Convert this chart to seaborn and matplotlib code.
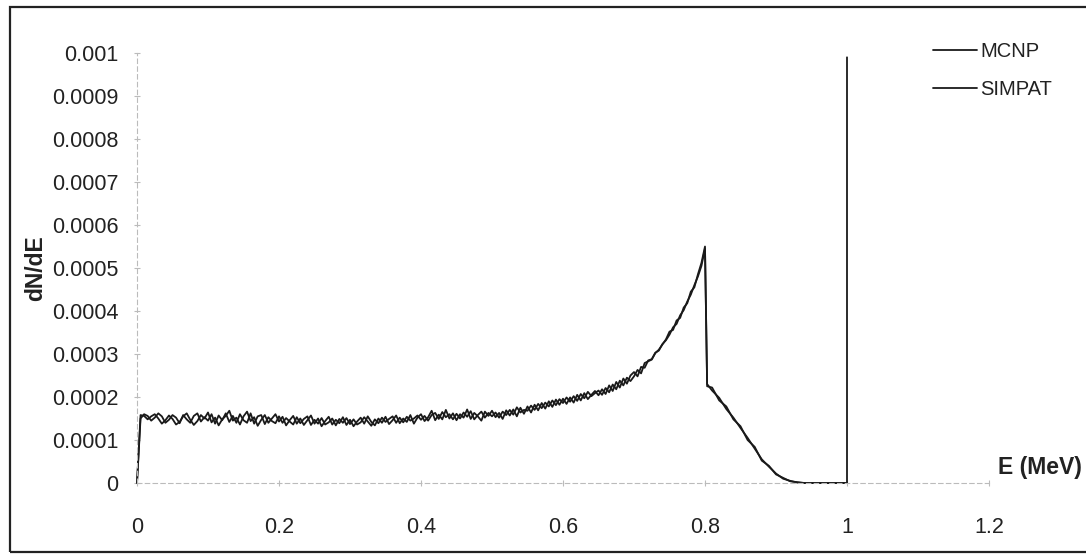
import numpy as np
import pandas as pd
import matplotlib
matplotlib.use("Agg")
import matplotlib.pyplot as plt
import seaborn as sns
from matplotlib.patches import Rectangle

# Energie-Raster (MeV) bis zum Peak, Schrittweite 0.005
energie_a = [
    0.000, 0.005, 0.010, 0.015, 0.020, 0.025, 0.030, 0.035, 0.040, 0.045,
    0.050, 0.055, 0.060, 0.065, 0.070, 0.075, 0.080, 0.085, 0.090, 0.095,
    0.100, 0.105, 0.110, 0.115, 0.120, 0.125, 0.130, 0.135, 0.140, 0.145,
    0.150, 0.155, 0.160, 0.165, 0.170, 0.175, 0.180, 0.185, 0.190, 0.195,
    0.200, 0.205, 0.210, 0.215, 0.220, 0.225, 0.230, 0.235, 0.240, 0.245,
    0.250, 0.255, 0.260, 0.265, 0.270, 0.275, 0.280, 0.285, 0.290, 0.295,
    0.300, 0.305, 0.310, 0.315, 0.320, 0.325, 0.330, 0.335, 0.340, 0.345,
    0.350, 0.355, 0.360, 0.365, 0.370, 0.375, 0.380, 0.385, 0.390, 0.395,
    0.400, 0.405, 0.410, 0.415, 0.420, 0.425, 0.430, 0.435, 0.440, 0.445,
    0.450, 0.455, 0.460, 0.465, 0.470, 0.475, 0.480, 0.485, 0.490, 0.495,
    0.500, 0.505, 0.510, 0.515, 0.520, 0.525, 0.530, 0.535, 0.540, 0.545,
    0.550, 0.555, 0.560, 0.565, 0.570, 0.575, 0.580, 0.585, 0.590, 0.595,
    0.600, 0.605, 0.610, 0.615, 0.620, 0.625, 0.630, 0.635, 0.640, 0.645,
    0.650, 0.655, 0.660, 0.665, 0.670, 0.675, 0.680, 0.685, 0.690, 0.695,
    0.700, 0.705, 0.710, 0.715, 0.720, 0.725, 0.730, 0.735, 0.740, 0.745,
    0.750, 0.755, 0.760, 0.765, 0.770, 0.775, 0.780, 0.785, 0.790, 0.795,
    0.800,
]
# Abfall nach dem Peak bis 1 MeV
energie_b = [0.803, 0.81, 0.82, 0.83, 0.84, 0.85, 0.86, 0.87, 0.88, 0.89,
             0.90, 0.91, 0.92, 0.93, 0.94, 0.96, 0.98, 1.00]

# dN/dE in Einheiten von 1e-4
mcnp_a = [
    0.00, 1.58, 1.56, 1.48, 1.55, 1.60, 1.50, 1.38, 1.46, 1.57,
    1.49, 1.36, 1.42, 1.55, 1.62, 1.47, 1.35, 1.44, 1.58, 1.50,
    1.64, 1.41, 1.52, 1.34, 1.48, 1.56, 1.68, 1.45, 1.52, 1.36,
    1.55, 1.66, 1.44, 1.53, 1.33, 1.47, 1.58, 1.40, 1.50, 1.60,
    1.43, 1.54, 1.34, 1.46, 1.56, 1.38, 1.50, 1.35, 1.46, 1.57,
    1.38, 1.50, 1.32, 1.44, 1.54, 1.36, 1.47, 1.39, 1.53, 1.35,
    1.47, 1.32, 1.43, 1.52, 1.38, 1.55, 1.42, 1.34, 1.50, 1.40,
    1.54, 1.37, 1.46, 1.57, 1.39, 1.50, 1.42, 1.58, 1.38, 1.52,
    1.60, 1.44, 1.53, 1.68, 1.46, 1.59, 1.48, 1.70, 1.50, 1.62,
    1.46, 1.60, 1.52, 1.71, 1.49, 1.63, 1.55, 1.45, 1.66, 1.56,
    1.68, 1.53, 1.63, 1.49, 1.69, 1.57, 1.71, 1.55, 1.75, 1.61,
    1.78, 1.64, 1.82, 1.69, 1.86, 1.73, 1.90, 1.77, 1.94, 1.82,
    1.96, 1.84, 1.99, 1.87, 2.05, 1.92, 2.09, 1.95, 2.05, 2.14,
    2.04, 2.18, 2.07, 2.27, 2.14, 2.35, 2.22, 2.43, 2.31, 2.50,
    2.58, 2.48, 2.70, 2.68, 2.85, 2.88, 3.03, 3.08, 3.23, 3.32,
    3.45, 3.62, 3.70, 3.90, 4.02, 4.22, 4.38, 4.60, 4.80, 5.05,
    5.45,
]
mcnp_b = [2.30, 2.15, 1.98, 1.72, 1.52, 1.28, 1.05, 0.80, 0.55, 0.38,
          0.22, 0.10, 0.05, 0.01, 0.00, 0.00, 0.00, 0.00]

simpat_a = [
    0.00, 1.50, 1.60, 1.56, 1.45, 1.52, 1.62, 1.55, 1.40, 1.47,
    1.58, 1.52, 1.39, 1.58, 1.48, 1.40, 1.56, 1.62, 1.43, 1.53,
    1.45, 1.60, 1.38, 1.57, 1.46, 1.62, 1.42, 1.56, 1.40, 1.60,
    1.46, 1.40, 1.62, 1.38, 1.55, 1.58, 1.37, 1.53, 1.44, 1.39,
    1.55, 1.40, 1.51, 1.43, 1.36, 1.53, 1.39, 1.49, 1.55, 1.35,
    1.47, 1.38, 1.51, 1.36, 1.41, 1.50, 1.34, 1.49, 1.40, 1.51,
    1.37, 1.48, 1.36, 1.41, 1.53, 1.43, 1.33, 1.48, 1.39, 1.52,
    1.42, 1.49, 1.55, 1.40, 1.52, 1.41, 1.54, 1.45, 1.50, 1.57,
    1.47, 1.56, 1.45, 1.58, 1.63, 1.49, 1.65, 1.53, 1.60, 1.48,
    1.61, 1.50, 1.64, 1.54, 1.67, 1.48, 1.58, 1.66, 1.52, 1.63,
    1.55, 1.64, 1.52, 1.66, 1.58, 1.70, 1.59, 1.76, 1.64, 1.70,
    1.68, 1.80, 1.70, 1.84, 1.74, 1.87, 1.78, 1.92, 1.81, 1.95,
    1.86, 1.99, 1.89, 2.02, 1.91, 2.07, 1.97, 2.12, 2.02, 2.09,
    2.15, 2.05, 2.21, 2.11, 2.29, 2.18, 2.38, 2.27, 2.45, 2.37,
    2.48, 2.63, 2.55, 2.79, 2.83, 2.87, 3.02, 3.10, 3.22, 3.34,
    3.52, 3.56, 3.78, 3.84, 4.08, 4.18, 4.45, 4.55, 4.85, 5.12,
    5.50,
]
simpat_b = [2.25, 2.22, 1.92, 1.78, 1.48, 1.32, 1.00, 0.84, 0.52, 0.40,
            0.20, 0.12, 0.04, 0.02, 0.00, 0.00, 0.00, 0.00]

# Linie bei 1 MeV (nur MCNP)
spitze_e = [1.00]
spitze_wert = [9.9]

skala = 1e-4

# === Daten zusammenbauen ===
e_mcnp = energie_a + energie_b + spitze_e
y_mcnp = mcnp_a + mcnp_b + spitze_wert
e_simpat = energie_a + energie_b
y_simpat = simpat_a + simpat_b

df = pd.concat([
    pd.DataFrame({"E": e_mcnp, "dNdE": np.array(y_mcnp) * skala, "Code": "MCNP"}),
    pd.DataFrame({"E": e_simpat, "dNdE": np.array(y_simpat) * skala, "Code": "SIMPAT"}),
], ignore_index=True)

# === Plot ===
sns.set_theme(style="white")
plt.rcParams["font.family"] = ["Liberation Sans", "DejaVu Sans"]

fig = plt.figure(figsize=(10.86, 5.55), dpi=100)
ax = fig.add_axes([137 / 1086, 72 / 555, 852 / 1086, 430 / 555])

sns.lineplot(
    data=df, x="E", y="dNdE", hue="Code",
    palette={"MCNP": "#1a1a1a", "SIMPAT": "#1a1a1a"},
    estimator=None, sort=False, linewidth=1.3, ax=ax,
)
for line in ax.lines:
    line.set_clip_on(False)

ax.set_xlim(0, 1.2)
ax.set_ylim(0, 0.001)
ax.set_xticks([0, 0.2, 0.4, 0.6, 0.8, 1.0, 1.2])
ax.set_xticklabels(["0", "0.2", "0.4", "0.6", "0.8", "1", "1.2"])
ax.set_yticks([i * 1e-4 for i in range(11)])
ax.set_yticklabels(["0", "0.0001", "0.0002", "0.0003", "0.0004", "0.0005",
                    "0.0006", "0.0007", "0.0008", "0.0009", "0.001"])
ax.tick_params(axis="y", labelsize=15.5, colors="#bbbbbb", labelcolor="#222222",
               direction="inout", length=5, width=0.8, pad=11, left=True)
ax.tick_params(axis="x", labelsize=15.5, colors="#bbbbbb", labelcolor="#222222",
               direction="inout", length=5, width=0.8, pad=22, bottom=True)

for s in ["top", "right"]:
    ax.spines[s].set_visible(False)
for s in ["left", "bottom"]:
    ax.spines[s].set_color("#bbbbbb")
    ax.spines[s].set_linestyle((0, (4, 3)))
    ax.spines[s].set_linewidth(0.8)

ax.set_xlabel("")
ax.set_ylabel("dN/dE", fontsize=16.5, fontweight="bold", color="#222222", labelpad=3)
ax.text(1.011, 0.01, "E (MeV)", transform=ax.transAxes, fontsize=16.5,
        fontweight="bold", color="#222222", ha="left", va="bottom")

sns.move_legend(ax, "upper left", bbox_to_anchor=(0.922, 1.05), frameon=False,
                title=None, fontsize=14.5, handlelength=2.2, handletextpad=0.15,
                borderpad=0, labelspacing=0.95)
for t in ax.get_legend().get_texts():
    t.set_color("#222222")

# Rahmen um die Grafik
fig.patches.append(Rectangle((10 / 1086, 3 / 555), 1.1, 545 / 555,
                             transform=fig.transFigure, fill=False,
                             edgecolor="#222222", linewidth=1.6))

fig.savefig("out.png", dpi=100)
